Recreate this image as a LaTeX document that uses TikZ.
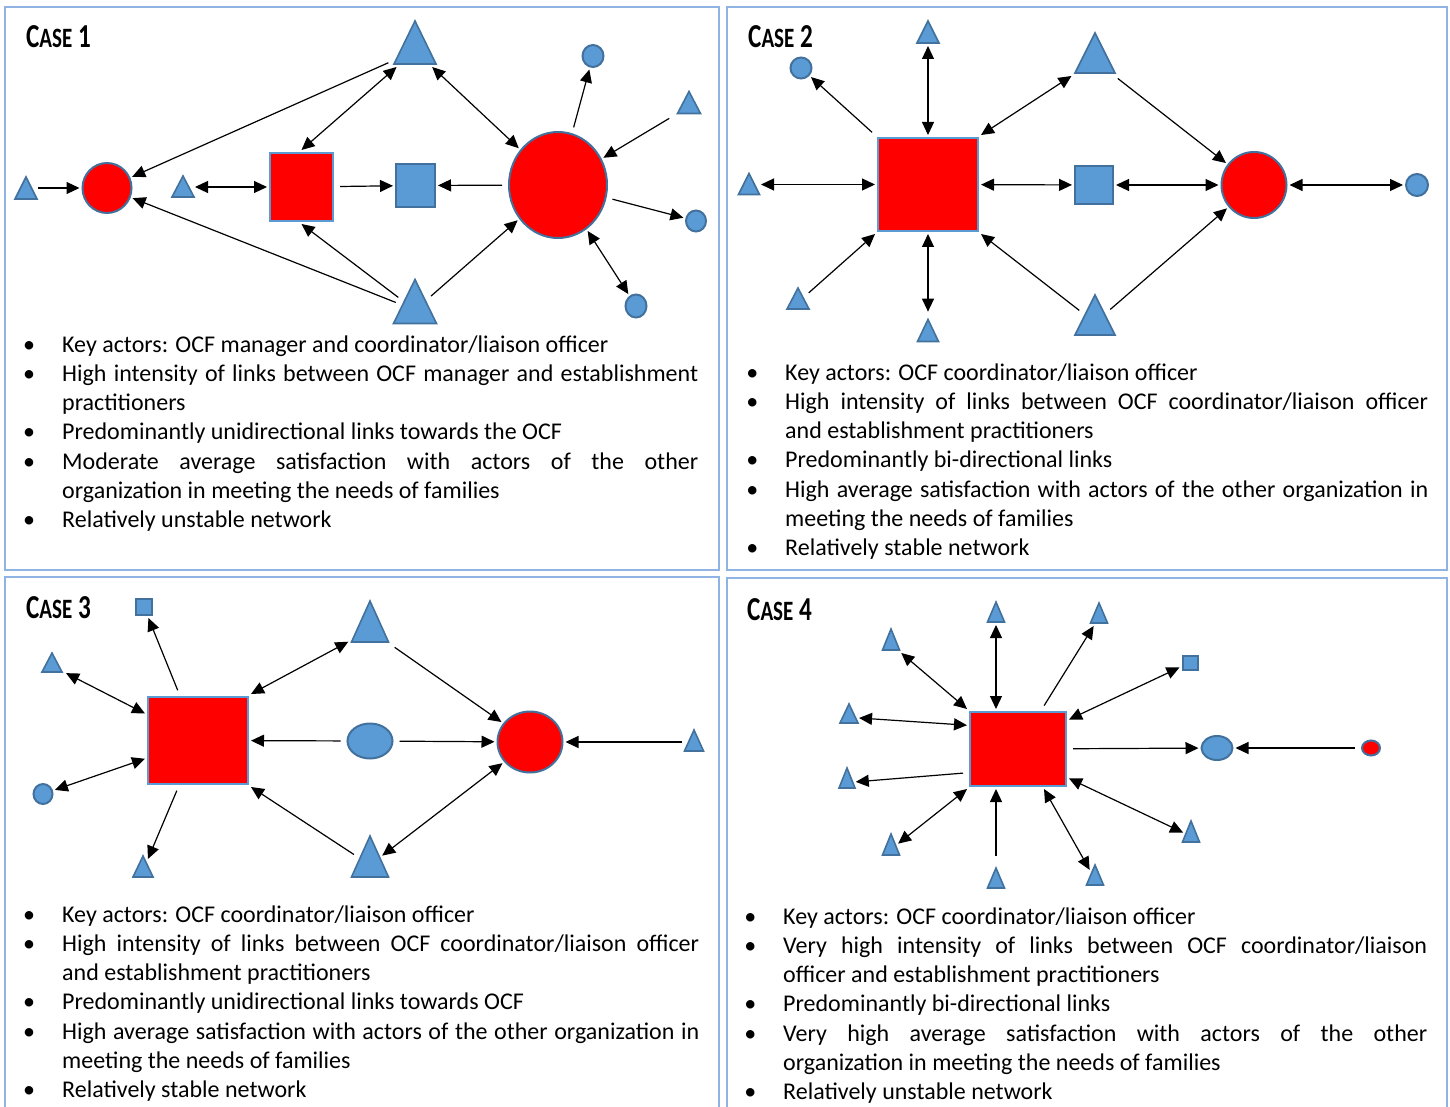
\documentclass[tikz,border=0pt]{standalone}
\usepackage{fontspec}
\setmainfont{Carlito}
\newfontfamily\casefont[FakeStretch=0.75]{Carlito}
\usetikzlibrary{arrows.meta,shapes.geometric}

\definecolor{actblue}{HTML}{5B9BD5}
\definecolor{edgeblue}{HTML}{41719C}
\definecolor{boxblue}{HTML}{8FB4E3}

\newcommand{\casehead}[1]{{\fontsize{33.5}{34}\selectfont C}{\fontsize{28}{28}\selectfont ASE}{\fontsize{33.5}{34}\selectfont\ #1}}
\newcommand{\caseitem}[1]{\noindent\llap{\textbullet\hspace{27pt}}#1\par}
\newcommand{\caselist}[2]{\vtop{\hsize=#1\parindent=0pt\parskip=0pt
  \tolerance=10000\hyphenpenalty=10000\exhyphenpenalty=10000
  \baselineskip=29.3pt\lineskiplimit=-100pt #2}}

\tikzset{
  panel/.style={draw=boxblue, line width=1.5pt},
  actor/.style={draw=edgeblue, fill=actblue, line width=2pt, inner sep=0pt, outer sep=3pt},
  tri/.style 2 args={actor, isosceles triangle, isosceles triangle stretches,
    anchor=lower side, yshift={-(#2/2+3)*1pt},
    rotate=90, minimum width=#2, minimum height=#1, line width=1.6pt},
  bluesq/.style 2 args={actor, rectangle, minimum width=#1, minimum height=#2},
  blueel/.style 2 args={actor, ellipse, minimum width=#1, minimum height=#2},
  redsq/.style 2 args={actor, rectangle, fill=red, draw=actblue, line width=2.5pt,
    minimum width=#1, minimum height=#2},
  redel/.style 2 args={actor, ellipse, fill=red, minimum width=#1, minimum height=#2},
  arr/.style={-{Triangle[length=13pt,width=12pt]}, line width=1.2pt, shorten <=4pt},
  darr/.style={{Triangle[length=13pt,width=12pt]}-{Triangle[length=13pt,width=12pt]}, line width=1.2pt},
  fromtri/.style={shorten <=12pt},
  casetitle/.style={anchor=base west, inner sep=0pt, font=\casefont\bfseries},
  textblock/.style={anchor=base west, inner sep=0pt, font=\fontsize{24}{29.3}\selectfont}
}

\begin{document}
\begin{tikzpicture}[x=1pt, y=-1pt]
  \useasboundingbox (0,0) rectangle (1450,1107);
  \clip (0,0) rectangle (1450,1107);

  % panels
  \draw[panel] (5,7) rectangle (719,570);
  \draw[panel] (727,7) rectangle (1447,570);
  \draw[panel] (5,577) rectangle (719,1115);
  \draw[panel] (727,578) rectangle (1447,1115);

  % case 1
  \node[casetitle] (h1) at (26,48) {\casehead{1}};
  \node[tri={22}{22}] (a1) at (26,188) {};
  \node[redel={49}{50}] (a2) at (107,188) {};
  \node[tri={21}{22}] (a3) at (183,186) {};
  \node[redsq={63}{68}] (a4) at (301.5,187) {};
  \node[bluesq={39}{43}] (a5) at (415.5,185.5) {};
  \node[redel={98}{106}] (a6) at (558,185) {};
  \node[tri={43}{42}] (a7) at (415,43) {};
  \node[tri={44}{43}] (a8) at (415,302) {};
  \node[blueel={21}{22}] (a9) at (593,56) {};
  \node[tri={22}{23}] (a10) at (689,102) {};
  \node[blueel={20}{21}] (a11) at (696,221) {};
  \node[blueel={21}{23}] (a12) at (636,306) {};

  \draw[arr,fromtri] (a1 |- a2) -- (a2);
  \draw[arr] (a7) -- (a2);
  \draw[arr] (a8) -- (a2);
  \draw[darr,fromtri] (a3 |- a4) -- (a4);
  \draw[darr] (a7) -- (a4.north);
  \draw[arr] (a8) -- (a4.south);
  \draw[arr] (a4) -- (a5);
  \draw[arr] (a6) -- (a5);
  \draw[darr] (a7) -- (a6);
  \draw[arr] (a8) -- (a6);
  \draw[arr] (a6) -- (a9);
  \draw[arr] (a10) -- (a6);
  \draw[arr] (a6) -- (a11);
  \draw[darr] (a6) -- (a12);

  \node[textblock] (t1) at (62,352) {\caselist{636pt}{%
    \caseitem{Key actors: OCF manager and coordinator/liaison officer}
    \caseitem{High intensity of links between OCF manager and establishment\linebreak practitioners}
    \caseitem{Predominantly unidirectional links towards the OCF}
    \caseitem{Moderate average satisfaction with actors of the other\linebreak organization in meeting the needs of families}
    \caseitem{Relatively unstable network}}};

  % case 2
  \node[casetitle] (h2) at (748,48) {\casehead{2}};
  \node[redsq={100}{93}] (b1) at (928,184.5) {};
  \node[tri={22}{22}] (b2) at (928,32) {};
  \node[tri={22}{21}] (b3) at (928,331) {};
  \node[tri={21}{21}] (b4) at (749,184) {};
  \node[blueel={21}{21}] (b5) at (801,68) {};
  \node[tri={21}{22}] (b6) at (798,298) {};
  \node[tri={40}{40}] (b7) at (1095,53) {};
  \node[tri={40}{40}] (b8) at (1095,315) {};
  \node[bluesq={38}{38}] (b9) at (1094,185) {};
  \node[redel={65}{66}] (b10) at (1254,185) {};
  \node[blueel={22}{22}] (b11) at (1417,185) {};

  \draw[darr] (b1) -- (b2);
  \draw[darr] (b1) -- (b3);
  \draw[darr,fromtri] (b4 |- b1) -- (b1);
  \draw[arr] (b1.north west) -- (b5);
  \draw[arr] (b6) -- (b1.south west);
  \draw[darr] (b1.north east) -- (b7);
  \draw[arr] (b8) -- (b1.south east);
  \draw[darr] (b1) -- (b9);
  \draw[darr] (b9) -- (b10);
  \draw[darr] (b10) -- (b11);
  \draw[arr] (b7) -- (b10);
  \draw[arr] (b8) -- (b10);

  \node[textblock] (t2) at (785,380) {\caselist{643pt}{%
    \caseitem{Key actors: OCF coordinator/liaison officer}
    \caseitem{High intensity of links between OCF coordinator/liaison officer\linebreak and establishment practitioners}
    \caseitem{Predominantly bi-directional links}
    \caseitem{High average satisfaction with actors of the other organization in\linebreak meeting the needs of families}
    \caseitem{Relatively stable network}}};

  % case 3
  \node[casetitle] (h3) at (26,618) {\casehead{3}};
  \node[redsq={100}{87}] (c1) at (198,740.5) {};
  \node[bluesq={16}{16}] (c2) at (144,607) {};
  \node[tri={19}{20}] (c3) at (52,662) {};
  \node[blueel={19}{20}] (c4) at (43,794) {};
  \node[tri={21}{20}] (c5) at (143,867) {};
  \node[tri={41}{37}] (c6) at (370,623.5) {};
  \node[tri={41}{37}] (c7) at (370,858.5) {};
  \node[blueel={45}{35}] (c8) at (370,741) {};
  \node[redel={65}{61}] (c9) at (530,742) {};
  \node[tri={21}{19}] (c10) at (694,741.5) {};

  \draw[arr] (c1) -- (c2);
  \draw[darr] (c3) -- (c1);
  \draw[darr] (c4) -- (c1);
  \draw[arr] (c1) -- (c5);
  \draw[darr] (c1.north east) -- (c6);
  \draw[arr] (c7) -- (c1.south east);
  \draw[arr] (c8) -- (c1);
  \draw[arr] (c8) -- (c9);
  \draw[arr] (c6) -- (c9);
  \draw[darr] (c9) -- (c7);
  \draw[arr,fromtri] (c10 |- c9) -- (c9);

  \node[textblock] (t3) at (62,922) {\caselist{637pt}{%
    \caseitem{Key actors: OCF coordinator/liaison officer}
    \caseitem{High intensity of links between OCF coordinator/liaison officer\linebreak and establishment practitioners}
    \caseitem{Predominantly unidirectional links towards OCF}
    \caseitem{High average satisfaction with actors of the other organization in\linebreak meeting the needs of families}
    \caseitem{Relatively stable network}}};

  % case 4
  \node[casetitle] (h4) at (747,620) {\casehead{4}};
  \node[redsq={96}{74}] (d1) at (1018,749) {};
  \node[blueel={31}{24}] (d2) at (1217,748) {};
  \node[redel={18}{15}] (d3) at (1371,748) {};
  \node[bluesq={15}{14}] (d4) at (1190,662.5) {};
  \node[tri={20}{17}] (d5) at (996,613.5) {};
  \node[tri={20}{17}] (d6) at (1099,614.5) {};
  \node[tri={21}{17}] (d7) at (891,641.5) {};
  \node[tri={19}{18}] (d8) at (849,714) {};
  \node[tri={20}{16}] (d9) at (847,780) {};
  \node[tri={21}{17}] (d10) at (891,846.5) {};
  \node[tri={20}{17}] (d11) at (996,879.5) {};
  \node[tri={20}{17}] (d12) at (1095,876.5) {};
  \node[tri={21}{17}] (d13) at (1191,833.5) {};

  \draw[darr] (d5) -- (d5 |- d1.north);
  \draw[arr] ([xshift=24pt]d1.north) -- (d6);
  \draw[darr] (d7) -- (d1.north west);
  \draw[darr] (d8) -- (d1.155);
  \draw[arr] (d1.205) -- (d9);
  \draw[darr] (d1.south west) -- (d10);
  \draw[arr] (d11) -- (d11 |- d1.south);
  \draw[darr] ([xshift=26pt]d1.south) -- (d12);
  \draw[darr] (d1.-30) -- (d13);
  \draw[darr] (d4) -- (d1.30);
  \draw[arr] (d1) -- (d2);
  \draw[arr] (d3) -- (d2);

  \node[textblock] (t4) at (783,924) {\caselist{644pt}{%
    \caseitem{Key actors: OCF coordinator/liaison officer}
    \caseitem{Very high intensity of links between OCF coordinator/liaison\linebreak officer and establishment practitioners}
    \caseitem{Predominantly bi-directional links}
    \caseitem{Very high average satisfaction with actors of the other\linebreak organization in meeting the needs of families}
    \caseitem{Relatively unstable network}}};
\end{tikzpicture}
\end{document}
